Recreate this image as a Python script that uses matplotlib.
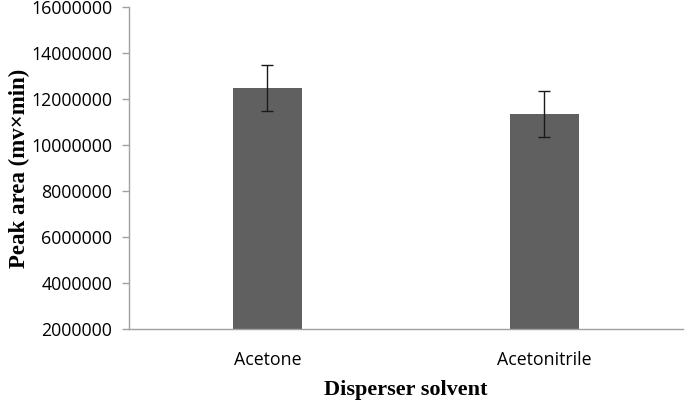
import numpy as np
import matplotlib.pyplot as plt

solvents = ['Acetone', 'Acetonitrile']
peak_area = [12480000, 11350000]
peak_err = [980000, 1000000]
yticks = np.arange(2000000, 16000001, 2000000)

fig = plt.figure(figsize=(6.85, 4), dpi=100)
ax = fig.add_axes([0.1883, 0.1775, 0.8087, 0.805])

x = np.arange(len(solvents)) + 0.5
ax.bar(x, peak_area, width=0.25, color='#606060', zorder=2)
ax.errorbar(x, peak_area, yerr=peak_err, fmt='none', ecolor='#1a1a1a',
            elinewidth=1, capsize=4, capthick=1, zorder=3)

ax.set_xlim(0, 2)
ax.set_ylim(2000000, 16000000)
ax.set_yticks(yticks)
ax.set_yticklabels([str(v) for v in yticks], family='Open Sans', fontsize=12.8)
ax.set_xticks(x)
ax.set_xticklabels(solvents, family='Open Sans', fontsize=12.8)
ax.tick_params(axis='x', length=0, pad=16)
ax.tick_params(axis='y', length=5, width=1, color='#A0A0A0', pad=7)

for s in ['top', 'right']:
    ax.spines[s].set_visible(False)
for s in ['left', 'bottom']:
    ax.spines[s].set_color('#A0A0A0')
    ax.spines[s].set_linewidth(1)

ax.set_xlabel('Disperser solvent', family='Liberation Serif', fontweight='bold',
              fontsize=16, labelpad=8)
ax.set_ylabel('Peak area (mv×min)', family='Liberation Serif', fontweight='bold',
              fontsize=16.5, labelpad=1)

fig.savefig('out.png', dpi=100)
